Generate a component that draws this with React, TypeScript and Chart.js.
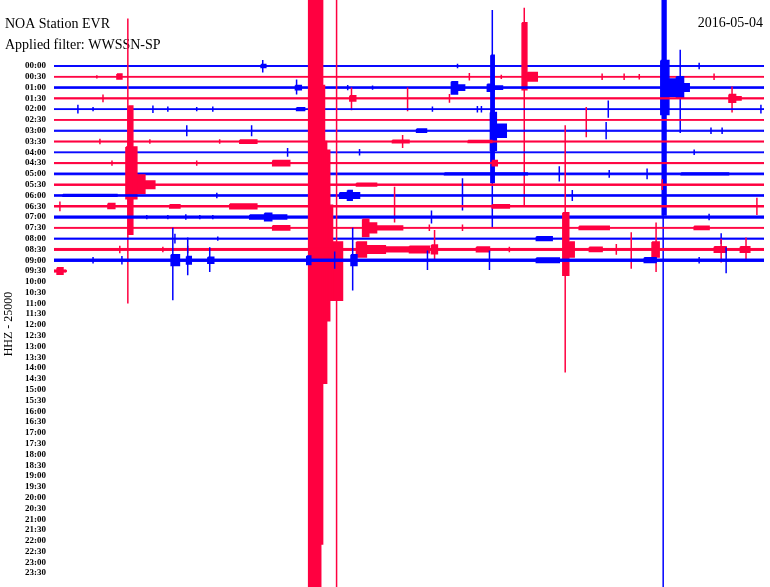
import React, { useEffect, useRef } from "react";
import { Chart, registerables } from "chart.js";

Chart.register(...registerables);

const timeLabels = [
  "00:00", "00:30", "01:00", "01:30", "02:00", "02:30", "03:00", "03:30",
  "04:00", "04:30", "05:00", "05:30", "06:00", "06:30", "07:00", "07:30",
  "08:00", "08:30", "09:00", "09:30", "10:00", "10:30", "11:00", "11:30",
  "12:00", "12:30", "13:00", "13:30", "14:00", "14:30", "15:00", "15:30",
  "16:00", "16:30", "17:00", "17:30", "18:00", "18:30", "19:00", "19:30",
  "20:00", "20:30", "21:00", "21:30", "22:00", "22:30", "23:00", "23:30",
];

const stationTitle = "NOA Station EVR";
const filterText = "Applied filter: WWSSN-SP";
const dateText = "2016-05-04";
const channelText = "HHZ - 25000";

// minutes recorded in each row (rows 00:00 .. 09:30)
const traceEnds = [30, 30, 30, 30, 30, 30, 30, 30, 30, 30, 30, 30, 30, 30, 30, 30, 30, 30, 30, 0.51];
// background noise half-amplitude per row (row units)
const rowNoise = [0.04, 0.035, 0.07, 0.055, 0.035, 0.035, 0.05, 0.05, 0.04, 0.05, 0.08, 0.065, 0.07, 0.07, 0.1, 0.04, 0.05, 0.09, 0.11, 0.1];

// [row, startMinute, endMinute, amplitudeUp, amplitudeDown] (amplitudes in row units)
const smallEvents = [
  [0, 8.75, 8.95, 0.15, 0.15], [0, 8.82, 8.82, 0.55, 0.6], [0, 17.05, 17.05, 0.2, 0.2], [0, 27.26, 27.26, 0.3, 0.3],
  [1, 1.81, 1.81, 0.15, 0.15], [1, 2.66, 2.87, 0.25, 0.2], [1, 17.55, 17.55, 0.35, 0.35], [1, 18.9, 18.9, 0.2, 0.2],
  [1, 20.0, 20.42, 0.4, 0.4], [1, 23.16, 23.16, 0.3, 0.3], [1, 24.09, 24.09, 0.3, 0.3], [1, 24.73, 24.73, 0.25, 0.25],
  [1, 27.89, 27.89, 0.3, 0.3],
  [2, 10.2, 10.45, 0.2, 0.2], [2, 10.25, 10.25, 0.75, 0.65], [2, 12.41, 12.41, 0.25, 0.25], [2, 13.46, 13.46, 0.2, 0.2],
  [2, 16.79, 17.05, 0.55, 0.6], [2, 17.05, 17.35, 0.25, 0.25], [2, 18.31, 18.6, 0.3, 0.35], [2, 18.6, 18.95, 0.15, 0.15],
  [3, 2.07, 2.07, 0.35, 0.35], [3, 12.5, 12.75, 0.25, 0.25], [3, 12.57, 12.57, 1.0, 1.1], [3, 14.94, 14.94, 1.0, 1.2],
  [3, 16.71, 16.71, 0.4, 0.4], [3, 28.52, 28.8, 0.35, 0.35], [3, 28.8, 29.03, 0.15, 0.15], [3, 28.65, 28.65, 1.1, 1.3],
  [4, 1.01, 1.01, 0.4, 0.4], [4, 1.65, 1.65, 0.2, 0.2], [4, 4.18, 4.18, 0.35, 0.35], [4, 4.81, 4.81, 0.25, 0.25],
  [4, 6.03, 6.03, 0.2, 0.2], [4, 6.71, 6.71, 0.25, 0.25], [4, 10.25, 10.59, 0.12, 0.12], [4, 15.99, 15.99, 0.25, 0.25],
  [4, 17.89, 17.89, 0.3, 0.3], [4, 18.06, 18.06, 0.3, 0.3], [4, 23.42, 23.42, 0.8, 0.8], [4, 29.87, 29.87, 0.4, 0.4],
  [5, 22.49, 22.49, 1.2, 1.6],
  [6, 5.61, 5.61, 0.5, 0.5], [6, 8.35, 8.35, 0.5, 0.5], [6, 15.32, 15.74, 0.15, 0.15], [6, 23.33, 23.33, 0.8, 0.8],
  [6, 27.76, 27.76, 0.3, 0.3], [6, 28.23, 28.23, 0.3, 0.3],
  [7, 1.94, 1.94, 0.25, 0.25], [7, 4.05, 4.05, 0.2, 0.2], [7, 7.0, 7.0, 0.2, 0.2], [7, 7.85, 8.57, 0.15, 0.15],
  [7, 14.3, 15.0, 0.12, 0.12], [7, 14.73, 14.73, 0.6, 0.6], [7, 17.5, 18.5, 0.1, 0.1],
  [8, 9.87, 9.87, 0.4, 0.4], [8, 12.91, 12.91, 0.3, 0.3], [8, 27.05, 27.05, 0.25, 0.25],
  [9, 2.45, 2.45, 0.25, 0.25], [9, 6.03, 6.03, 0.25, 0.25], [9, 9.24, 9.96, 0.25, 0.25], [9, 18.52, 18.73, 0.25, 0.25],
  [10, 16.5, 20.0, 0.08, 0.08], [10, 21.35, 21.35, 0.7, 0.7], [10, 23.46, 23.46, 0.35, 0.35], [10, 25.06, 25.06, 0.5, 0.5],
  [10, 26.5, 28.5, 0.08, 0.08],
  [11, 12.78, 13.63, 0.13, 0.13], [11, 25.7, 25.7, 0.5, 0.5],
  [12, 0.38, 2.66, 0.08, 0.08], [12, 6.88, 6.88, 0.25, 0.25], [12, 12.07, 12.91, 0.25, 0.25], [12, 12.4, 12.6, 0.45, 0.45],
  [12, 17.26, 17.26, 1.6, 1.4], [12, 21.9, 21.9, 0.5, 0.5],
  [13, 0.25, 0.25, 0.45, 0.45], [13, 2.28, 2.57, 0.25, 0.2], [13, 4.89, 5.32, 0.15, 0.15], [13, 7.43, 8.57, 0.22, 0.22],
  [13, 14.39, 14.39, 1.8, 1.5], [13, 18.52, 19.24, 0.15, 0.15], [13, 29.7, 29.7, 0.8, 0.8],
  [14, 3.92, 3.92, 0.2, 0.2], [14, 4.81, 4.81, 0.2, 0.2], [14, 5.57, 5.57, 0.25, 0.25], [14, 6.16, 6.16, 0.2, 0.2],
  [14, 6.71, 6.71, 0.2, 0.2], [14, 8.27, 9.83, 0.18, 0.18], [14, 8.9, 9.2, 0.35, 0.35], [14, 15.95, 15.95, 0.6, 0.6],
  [14, 27.68, 27.68, 0.3, 0.3],
  [15, 9.24, 9.96, 0.2, 0.2], [15, 13.04, 13.3, 0.8, 0.8], [15, 13.3, 13.63, 0.45, 0.45], [15, 13.63, 14.73, 0.18, 0.18],
  [15, 15.86, 15.86, 0.3, 0.3], [15, 17.26, 17.26, 0.3, 0.3], [15, 22.19, 23.46, 0.15, 0.15], [15, 27.05, 27.68, 0.15, 0.15],
  [16, 5.11, 5.11, 0.45, 0.45], [16, 6.92, 6.92, 0.2, 0.2], [16, 20.38, 21.05, 0.18, 0.18], [16, 28.19, 28.19, 0.5, 0.5],
  [17, 2.78, 2.78, 0.35, 0.35], [17, 4.6, 4.6, 0.25, 0.25], [17, 5.65, 5.65, 0.35, 0.35], [17, 12.78, 13.2, 0.7, 0.7],
  [17, 13.2, 14.0, 0.35, 0.35], [17, 14.0, 15.02, 0.22, 0.22], [17, 15.02, 15.86, 0.3, 0.3], [17, 15.95, 16.2, 0.4, 0.4],
  [17, 16.08, 16.08, 1.8, 0.9], [17, 17.85, 18.4, 0.22, 0.22], [17, 19.24, 19.24, 0.25, 0.25], [17, 21.77, 21.98, 0.7, 0.7],
  [17, 22.62, 23.16, 0.2, 0.2], [17, 23.76, 23.76, 0.5, 0.5], [17, 24.39, 24.39, 1.6, 1.8], [17, 25.27, 25.57, 0.7, 0.7],
  [17, 25.44, 25.44, 2.5, 2.1], [17, 27.9, 28.4, 0.25, 0.25], [17, 28.19, 28.19, 1.0, 1.2], [17, 29.0, 29.4, 0.25, 0.25],
  [17, 29.24, 29.24, 1.1, 1.1],
  [18, 1.65, 1.65, 0.3, 0.3], [18, 2.87, 2.87, 0.4, 0.4], [18, 4.95, 5.3, 0.5, 0.5], [18, 5.02, 5.02, 3.0, 3.7],
  [18, 5.6, 5.8, 0.35, 0.35], [18, 5.65, 5.65, 2.1, 1.4], [18, 6.5, 6.75, 0.28, 0.28], [18, 6.58, 6.58, 1.2, 1.1],
  [18, 10.68, 10.85, 0.4, 0.4], [18, 11.86, 11.86, 0.8, 0.8], [18, 12.55, 12.8, 0.5, 0.5], [18, 12.62, 12.62, 3.0, 2.8],
  [18, 15.78, 15.78, 0.9, 0.9], [18, 18.4, 18.4, 0.9, 0.9], [18, 20.38, 21.35, 0.2, 0.2], [18, 24.94, 25.44, 0.22, 0.22],
  [18, 27.26, 27.26, 0.3, 0.3], [18, 28.4, 28.4, 1.2, 1.2],
  [19, 0.13, 0.38, 0.3, 0.3],
];

const largeEvents = [
  [1, 19.87, 19.87, 6.4, 11.9], [1, 19.78, 19.98, 5.0, 1.2],
  [2, 25.74, 25.74, 9.0, 47.0], [2, 25.7, 25.86, 8.2, 11.8], [2, 25.64, 25.98, 2.5, 2.5],
  [2, 25.98, 26.41, 0.8, 0.8], [2, 26.41, 26.84, 0.35, 0.35], [2, 26.3, 26.6, 1.0, 1.0], [2, 26.46, 26.46, 3.5, 4.2],
  [6, 18.52, 18.52, 11.2, 9.0], [6, 18.46, 18.6, 7.0, 4.8], [6, 18.44, 18.69, 1.7, 1.8], [6, 18.69, 19.11, 0.6, 0.6],
  [11, 3.12, 3.12, 15.4, 11.0], [11, 3.14, 3.33, 7.3, 4.6], [11, 3.04, 3.5, 3.5, 1.3], [11, 3.5, 3.84, 0.9, 0.8],
  [11, 3.84, 4.26, 0.35, 0.35],
  [17, 10.76, 11.27, 24, 32], [17, 11.27, 11.35, 24, 27.3], [17, 11.35, 11.43, 15.2, 12.4],
  [17, 11.43, 11.52, 10.0, 12.4], [17, 11.52, 11.65, 9.2, 6.6], [17, 11.65, 11.77, 4.1, 4.7],
  [17, 11.77, 12.19, 0.7, 4.7], [17, 11.94, 11.94, 24, 32],
  [17, 21.6, 21.6, 11.5, 11.4], [17, 21.5, 21.75, 3.4, 2.4],
];

const BLUE = "#0000ff";
const RED = "#ff0040";

function rectPoints(row: number, s: number, e: number, up: number, down: number) {
  return [
    { x: s, y: row - up },
    { x: e, y: row - up },
    { x: e, y: row + down },
    { x: s, y: row + down },
    { x: s, y: row - up },
  ];
}

const textPlugin = {
  id: "heliTexts",
  beforeDatasetsDraw(chart: any) {
    const ctx = chart.ctx;
    ctx.save();
    ctx.fillStyle = "#000";
    ctx.textBaseline = "alphabetic";
    ctx.textAlign = "left";
    ctx.font = '14px "Liberation Serif"';
    ctx.fillText(stationTitle, 5, 28);
    ctx.fillText(filterText, 5, 49);
    ctx.textAlign = "right";
    ctx.fillText(dateText, 763, 27);
    ctx.translate(9, 324);
    ctx.rotate(-Math.PI / 2);
    ctx.textAlign = "center";
    ctx.textBaseline = "middle";
    ctx.font = '12px "Liberation Serif"';
    ctx.fillText(channelText, 0, 0);
    ctx.restore();
  },
};

export default function App() {
  const canvasRef = useRef<HTMLCanvasElement | null>(null);

  useEffect(() => {
    if (!canvasRef.current) return;
    const datasets: any[] = [];
    const makeDs = (row: number, pts: any[], bw: number) => {
      const c = row % 2 === 0 ? BLUE : RED;
      return {
        type: "line",
        data: pts,
        borderColor: c,
        backgroundColor: c,
        borderWidth: bw,
        fill: "shape",
        pointRadius: 0,
        pointHoverRadius: 0,
        tension: 0,
        order: 100 - row,
      };
    };
    traceEnds.forEach((end, row) => {
      datasets.push(makeDs(row, rectPoints(row, 0, end, rowNoise[row], rowNoise[row]), 1));
    });
    [...smallEvents, ...largeEvents].forEach(([row, s, e, up, down]) => {
      datasets.push(makeDs(row, rectPoints(row, s, e, up, down), 1.5));
    });

    const chart = new Chart(canvasRef.current, {
      type: "line",
      data: { datasets },
      options: {
        animation: false,
        responsive: false,
        events: [],
        layout: { autoPadding: false, padding: { left: 0, right: 6, top: 0, bottom: 0 } },
        plugins: { legend: { display: false }, tooltip: { enabled: false } },
        scales: {
          x: { type: "linear", min: 0, max: 30, display: false },
          y: {
            type: "linear",
            reverse: true,
            min: -66 / 10.79,
            max: (587 - 66) / 10.79,
            afterFit: (s: any) => {
              s.width = 54;
              s.paddingTop = 0;
              s.paddingBottom = 0;
            },
            afterBuildTicks: (s: any) => {
              s.ticks = timeLabels.map((_, i) => ({ value: i }));
            },
            ticks: {
              autoSkip: false,
              padding: 8,
              color: "#000",
              font: { family: "Liberation Serif", size: 9, weight: "bold" },
              callback: (v: any) => timeLabels[v as number] ?? "",
            },
            grid: { display: false, drawTicks: false },
            border: { display: false },
          },
        },
      },
      plugins: [textPlugin],
    } as any);
    return () => chart.destroy();
  }, []);

  return (
    <div style={{ position: "fixed", left: 0, top: 0, width: 770, height: 587, background: "#fff" }}>
      <canvas ref={canvasRef} width={770} height={587} style={{ width: 770, height: 587, display: "block" }} />
    </div>
  );
}
